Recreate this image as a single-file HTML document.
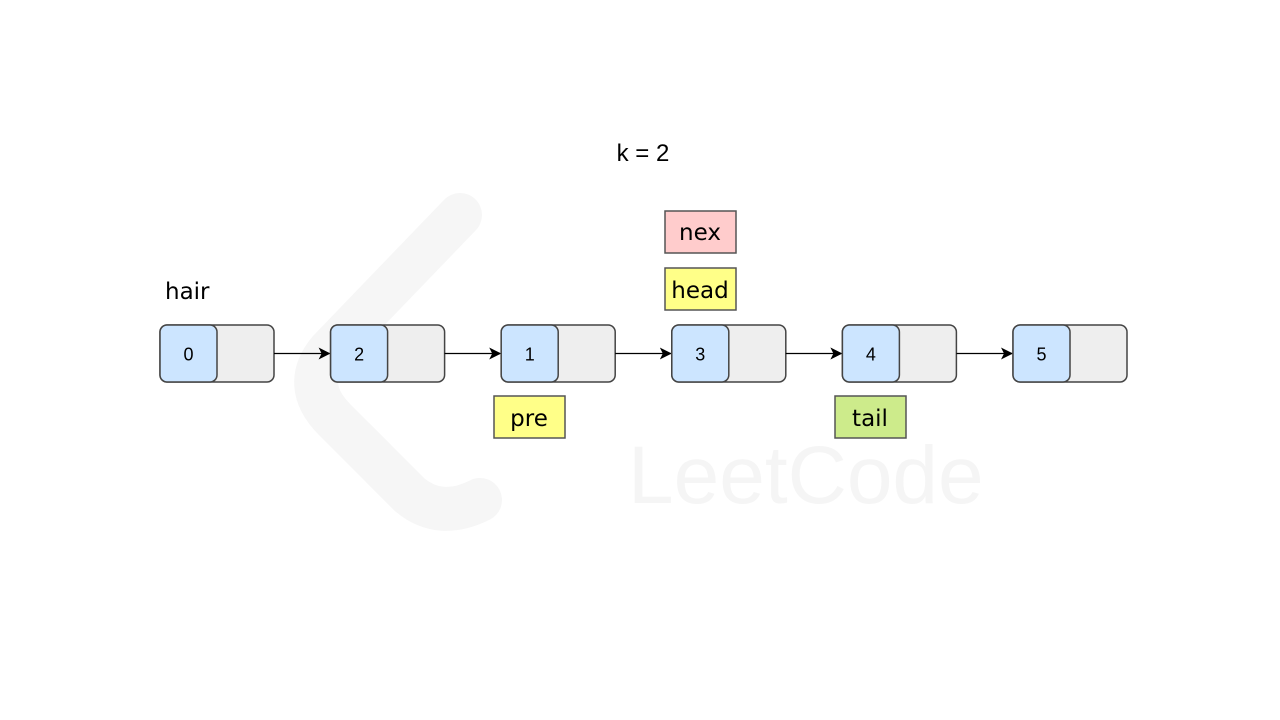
<!DOCTYPE html>
<html><head><meta charset="utf-8"><style>
html,body{margin:0;padding:0;background:#fff;}
svg{display:block;}
</style></head><body>
<svg width="1280" height="720" viewBox="0 0 1280 720" xmlns="http://www.w3.org/2000/svg">
<defs><marker id="ah" markerWidth="12" markerHeight="12" refX="11" refY="6" orient="auto" markerUnits="userSpaceOnUse"><path d="M0,0 L12,6 L0,12 L3,6 Z" fill="#000"/></marker></defs>
<g fill="none" stroke="#f6f6f6" stroke-linecap="round">
<path d="M460,215 L330,350 Q300,385 335,420 L410,495 Q440,520 480,500" stroke-width="44"/>
</g>
<text x="628" y="503" font-family="Liberation Sans, sans-serif" font-size="82" fill="#f5f5f5">LeetCode</text>
<text x="643" y="161" text-anchor="middle" font-family="Liberation Sans, sans-serif" font-size="24" fill="#000">k = 2</text>
<text x="165" y="299" font-family="'Comic Sans MS','DejaVu Sans',sans-serif" font-size="23" fill="#000">hair</text>
<g id="nodes"></g>
<g font-family="'Comic Sans MS','DejaVu Sans',sans-serif" font-size="23" text-anchor="middle">
<rect x="665" y="211" width="71" height="42" fill="#ffcccc" stroke="#555" stroke-width="1.5"/>
<text x="700" y="240">nex</text>
<rect x="665" y="268" width="71" height="42" fill="#ffff88" stroke="#555" stroke-width="1.5"/>
<text x="700" y="298">head</text>
<rect x="494" y="396" width="71" height="42" fill="#ffff88" stroke="#555" stroke-width="1.5"/>
<text x="529" y="426">pre</text>
<rect x="835" y="396" width="71" height="42" fill="#cdeb8b" stroke="#555" stroke-width="1.5"/>
<text x="870" y="426">tail</text>
</g>
</svg>
<script>
const values = ['0','2','1','3','4','5'];
const g = document.getElementById('nodes');
const NS = 'http://www.w3.org/2000/svg';
const x0 = 160, step = 170.6, y = 325, w = 114, h = 57;
values.forEach((v,i)=>{
  const x = x0 + i*step;
  const grp = document.createElementNS(NS,'g');
  
  
  const r = document.createElementNS(NS,'rect');
  r.setAttribute('x',x);r.setAttribute('y',y);r.setAttribute('width',w);r.setAttribute('height',h);
  r.setAttribute('rx',7);r.setAttribute('fill','#eeeeee');r.setAttribute('stroke','#444');r.setAttribute('stroke-width',1.5);
  grp.appendChild(r);
  const b = document.createElementNS(NS,'rect');
  b.setAttribute('x',x);b.setAttribute('y',y);b.setAttribute('width',57);b.setAttribute('height',h);
  b.setAttribute('rx',7);b.setAttribute('fill','#cce5ff');b.setAttribute('stroke','#444');b.setAttribute('stroke-width',1.5);
  grp.appendChild(b);
  const t = document.createElementNS(NS,'text');
  t.setAttribute('x',x+28.5);t.setAttribute('y',y+35.5);t.setAttribute('text-anchor','middle');
  t.setAttribute('font-family','Liberation Sans, sans-serif');t.setAttribute('font-size','18');
  t.textContent = v;
  grp.appendChild(t);
  g.appendChild(grp);
  if(i < values.length-1){
    const l = document.createElementNS(NS,'line');
    
    
    l.setAttribute('x1',x+w);l.setAttribute('y1',y+28.5);
    l.setAttribute('x2',x+step-1);l.setAttribute('y2',y+28.5);
    l.setAttribute('stroke','#000');l.setAttribute('stroke-width',1.3);
    l.setAttribute('marker-end','url(#ah)');
    g.appendChild(l);
  }
});
</script>
</body></html>
